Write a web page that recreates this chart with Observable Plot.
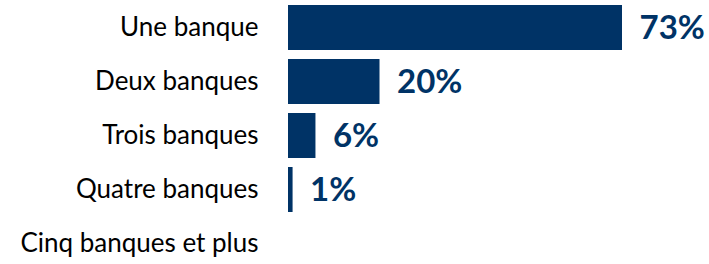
<!DOCTYPE html>
<html><head><meta charset="utf-8">
<script src="https://cdn.jsdelivr.net/npm/d3@7"></script>
<script src="https://cdn.jsdelivr.net/npm/@observablehq/plot@0.6"></script>
<style>body{margin:0;background:#fff;}</style>
</head><body><div id="chart"></div>
<script>
const categories = ["Une banque", "Deux banques", "Trois banques", "Quatre banques", "Cinq banques et plus"];
const values = [73, 20, 6, 1, 0];
const valueLabels = ["73%", "20%", "6%", "1%", ""];
const data = categories.map((c, i) => ({category: c, value: values[i], label: valueLabels[i]}));
const navy = "#003366";
const plot = Plot.plot({
  width: 709, height: 264,
  marginLeft: 288, marginRight: 87, marginTop: 0, marginBottom: 0,
  style: {fontFamily: "Lato, sans-serif", background: "#fff"},
  x: {domain: [0, 73], axis: null},
  y: {domain: categories, range: [5, 266], paddingInner: 9/54, paddingOuter: 0, axis: null},
  marks: [
    Plot.barX(data, {x: "value", y: "category", fill: navy}),
    Plot.axisY({tickSize: 0, tickPadding: 30, fontSize: 26, fill: "#000", label: null}),
    Plot.text(data, {x: "value", y: "category", text: "label", textAnchor: "start", dx: 17, fill: navy, fontSize: 33, fontWeight: "bold"})
  ]
});
document.getElementById("chart").appendChild(plot);
</script></body></html>
